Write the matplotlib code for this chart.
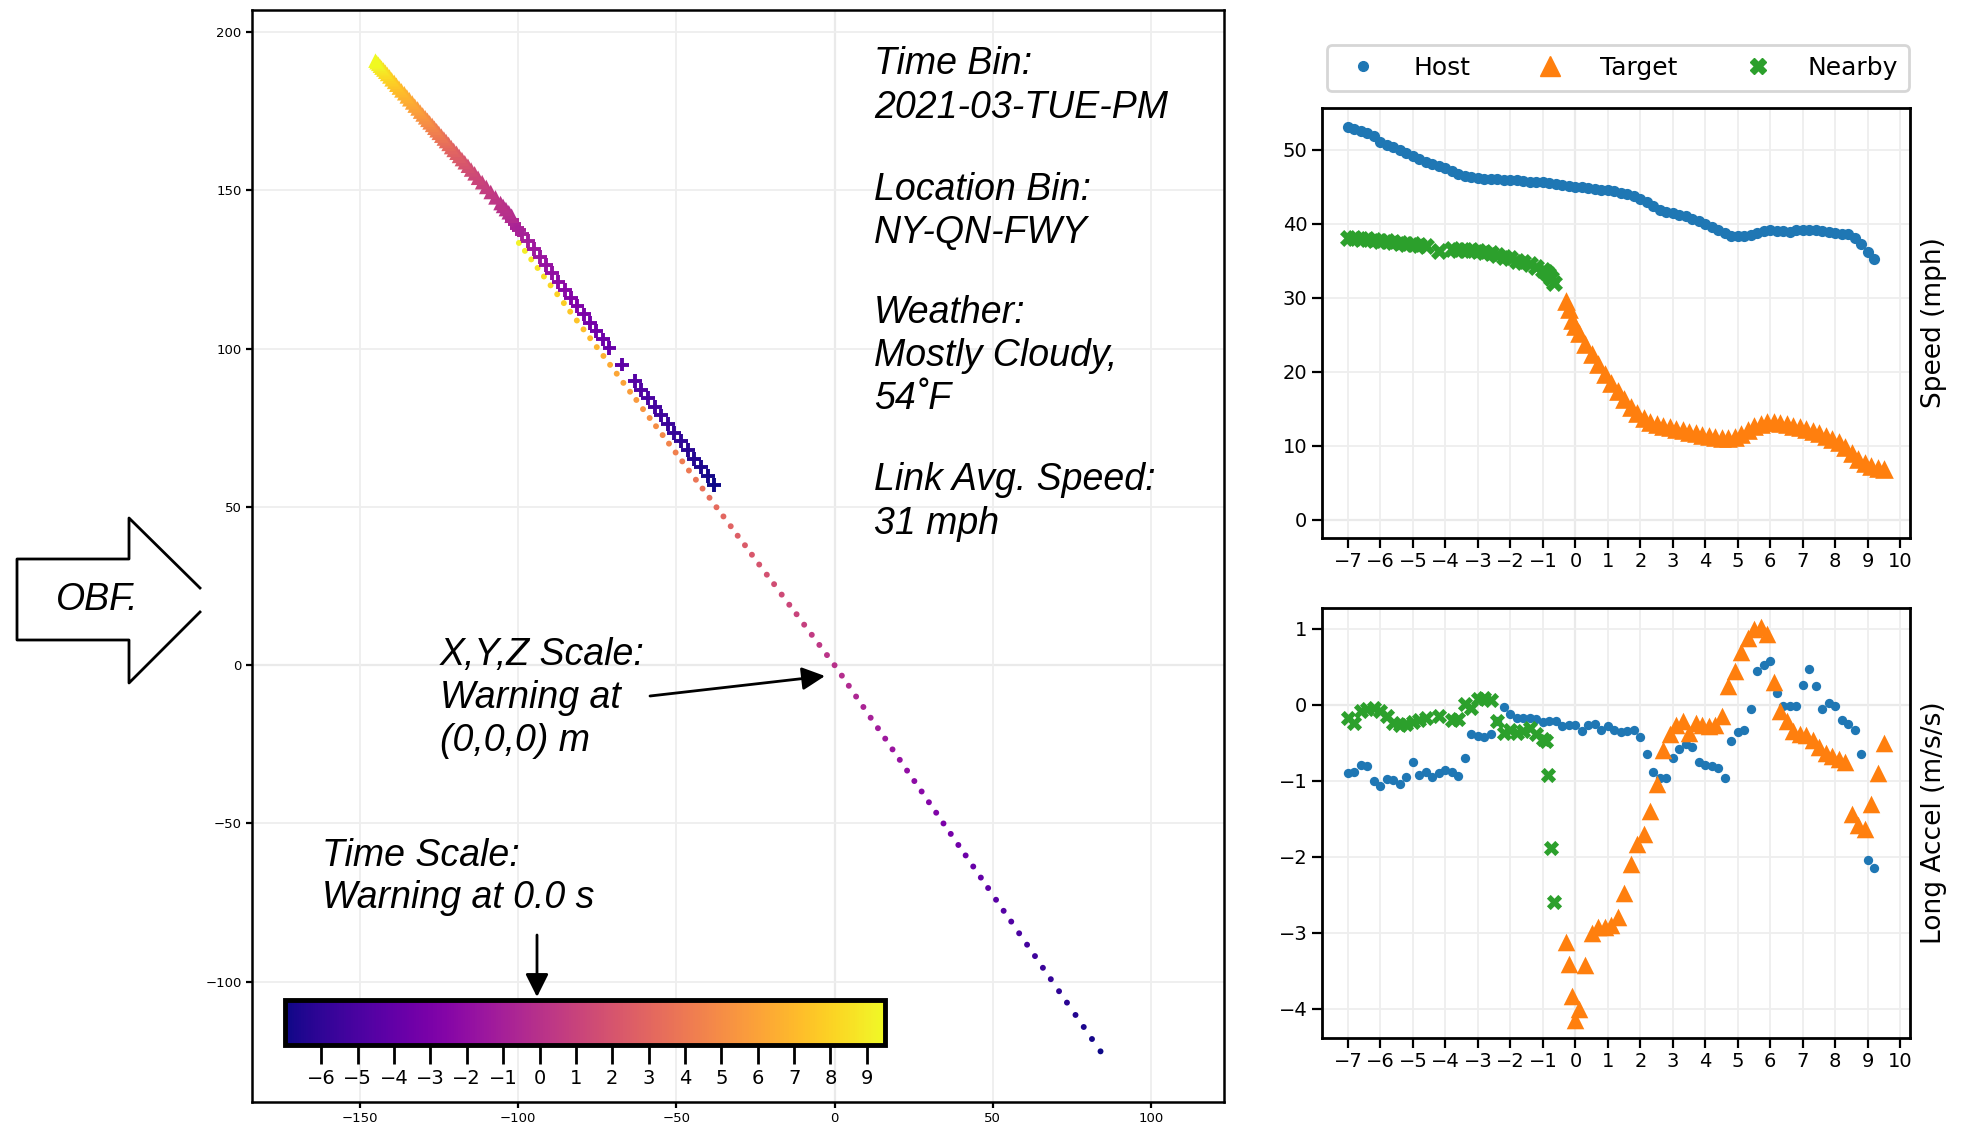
#!/usr/bin/env python3
"""
Warning event summary: trajectory map coloured by time, plus speed and
longitudinal acceleration of the host, target and nearby vehicles.
"""

import matplotlib
matplotlib.use("Agg")
import matplotlib.pyplot as plt
from matplotlib.colors import Normalize
from matplotlib.lines import Line2D
from matplotlib.patches import Polygon, FancyArrowPatch

# Canvas
W, H, DPI = 1961, 1130, 100

# Colours / fonts
HOST_C = "#1f77b4"
TARG_C = "#ff7f0e"
NEAR_C = "#2ca02c"
GRID_C = "#eeeeee"
ZERO_C = "#cccccc"
TXT = dict(fontsize=27, fontstyle="italic", family=["Liberation Sans", "DejaVu Sans"])

# Host vehicle (time s, speed mph, accel m/s/s, position m)
HOST_T = [-7.0, -6.8, -6.6, -6.4, -6.2, -6.0, -5.8, -5.6, -5.4, -5.2,
          -5.0, -4.8, -4.6, -4.4, -4.2, -4.0, -3.8, -3.6, -3.4, -3.2,
          -3.0, -2.8, -2.6, -2.4, -2.2, -2.0, -1.8, -1.6, -1.4, -1.2,
          -1.0, -0.8, -0.6, -0.4, -0.2, 0.0, 0.2, 0.4, 0.6, 0.8,
          1.0, 1.2, 1.4, 1.6, 1.8, 2.0, 2.2, 2.4, 2.6, 2.8,
          3.0, 3.2, 3.4, 3.6, 3.8, 4.0, 4.2, 4.4, 4.6, 4.8,
          5.0, 5.2, 5.4, 5.6, 5.8, 6.0, 6.2, 6.4, 6.6, 6.8,
          7.0, 7.2, 7.4, 7.6, 7.8, 8.0, 8.2, 8.4, 8.6, 8.8,
          9.0, 9.2]
HOST_SPEED = [53.1, 52.8, 52.5, 52.3, 51.8, 51.0, 50.6, 50.3, 50.0, 49.6,
              49.2, 48.8, 48.4, 48.1, 47.8, 47.5, 47.1, 46.7, 46.5, 46.3,
              46.2, 46.1, 46.0, 46.0, 45.9, 45.9, 45.9, 45.8, 45.7, 45.7,
              45.6, 45.5, 45.3, 45.2, 45.1, 45.0, 44.9, 44.8, 44.7, 44.6,
              44.5, 44.4, 44.2, 44.0, 43.8, 43.4, 42.9, 42.4, 41.9, 41.6,
              41.4, 41.2, 41.0, 40.7, 40.3, 40.0, 39.6, 39.1, 38.7, 38.3,
              38.3, 38.4, 38.5, 38.8, 39.0, 39.1, 39.0, 39.0, 38.9, 39.1,
              39.2, 39.2, 39.2, 39.0, 38.9, 38.7, 38.6, 38.6, 38.1, 37.3,
              36.2, 35.2]
HOST_ACCEL = [-0.90, -0.88, -0.79, -0.81, -1.00, -1.07, -0.98, -0.99, -1.04, -0.95,
              -0.76, -0.93, -0.88, -0.95, -0.90, -0.86, -0.88, -0.94, -0.70, -0.38,
              -0.41, -0.43, -0.38, -0.22, -0.03, -0.12, -0.18, -0.17, -0.17, -0.19,
              -0.23, -0.22, -0.22, -0.28, -0.27, -0.27, -0.35, -0.27, -0.25, -0.33,
              -0.28, -0.33, -0.36, -0.35, -0.33, -0.42, -0.65, -0.88, -0.96, -0.97,
              -0.70, -0.58, -0.52, -0.55, -0.75, -0.79, -0.81, -0.83, -0.96, -0.48,
              -0.36, -0.33, -0.05, 0.45, 0.52, 0.58, 0.15, -0.02, -0.02, -0.02,
              0.26, 0.47, 0.25, -0.05, 0.02, -0.02, -0.20, -0.25, -0.33, -0.65,
              -2.05, -2.15]
HOST_X = [84.0, 81.3, 78.7, 76.1, 73.4, 70.9, 68.3, 65.8, 63.3, 60.8,
          58.3, 55.8, 53.4, 51.0, 48.5, 46.2, 43.8, 41.4, 39.1, 36.7,
          34.4, 32.1, 29.8, 27.5, 25.2, 22.9, 20.6, 18.3, 16.0, 13.7,
          11.4, 9.1, 6.8, 4.5, 2.3, 0.0, -2.4, -4.8, -7.2, -9.6,
          -12.0, -14.3, -16.7, -19.1, -21.4, -23.8, -26.1, -28.3, -30.6, -32.8,
          -35.1, -37.3, -39.5, -41.7, -43.8, -46.0, -48.1, -50.2, -52.3, -54.3,
          -56.4, -58.4, -60.5, -62.6, -64.6, -66.7, -68.8, -70.9, -73.0, -75.1,
          -77.2, -79.3, -81.4, -83.5, -85.5, -87.6, -89.7, -91.8, -93.8, -95.8,
          -97.8, -99.7]
HOST_Y = [-122.0, -118.1, -114.3, -110.5, -106.6, -103.0, -99.2, -95.6, -91.9, -88.3,
          -84.7, -81.0, -77.6, -74.1, -70.4, -67.1, -63.6, -60.1, -56.8, -53.3,
          -50.0, -46.6, -43.3, -39.9, -36.6, -33.3, -29.9, -26.6, -23.2, -19.9,
          -16.6, -13.2, -9.9, -6.5, -3.3, 0.0, 3.2, 6.4, 9.6, 12.8,
          16.1, 19.1, 22.3, 25.6, 28.6, 31.8, 34.9, 37.9, 40.9, 43.9,
          47.0, 49.9, 52.9, 55.8, 58.6, 61.5, 64.4, 67.2, 70.0, 72.7,
          75.5, 78.1, 80.9, 83.8, 86.4, 89.2, 92.1, 94.9, 97.7, 100.5,
          103.3, 106.1, 108.9, 111.7, 114.4, 117.2, 120.0, 122.8, 125.5, 128.2,
          130.9, 133.4]

# Nearby vehicle
NEAR_T = [-7.0, -6.8, -6.6, -6.4, -6.2, -6.0, -5.8, -5.6, -5.4, -5.2,
          -5.0, -4.8, -4.6, -4.2, -3.8, -3.6, -3.4, -3.2, -3.0, -2.8,
          -2.6, -2.4, -2.2, -2.0, -1.8, -1.6, -1.4, -1.2, -1.0, -0.9,
          -0.85, -0.75, -0.65]
NEAR_SPEED = [38.1, 38.0, 37.9, 37.9, 37.8, 37.7, 37.6, 37.5, 37.4, 37.3,
              37.2, 37.1, 37.0, 36.3, 36.6, 36.5, 36.5, 36.4, 36.3, 36.2,
              36.0, 35.8, 35.5, 35.3, 35.0, 34.8, 34.5, 34.2, 33.8, 33.5,
              33.2, 32.6, 32.0]
NEAR_ACCEL = [-0.18, -0.24, -0.08, -0.05, -0.04, -0.08, -0.15, -0.24, -0.27, -0.25,
              -0.23, -0.20, -0.17, -0.15, -0.20, -0.19, 0.01, -0.04, 0.08, 0.09,
              0.06, -0.22, -0.37, -0.33, -0.37, -0.35, -0.30, -0.38, -0.45, -0.48,
              -0.93, -1.89, -2.60]
NEAR_X = [-38.0, -40.1, -42.2, -44.3, -46.4, -48.5, -50.6, -52.7, -54.8, -56.8,
          -58.9, -61.0, -63.0, -67.1, -71.1, -73.2, -75.2, -77.2, -79.2, -81.2,
          -83.3, -85.2, -87.2, -89.2, -91.1, -93.1, -95.0, -96.9, -98.8, -99.7,
          -100.2, -101.1, -102.0]
NEAR_Y = [57.0, 59.8, 62.5, 65.2, 68.0, 70.7, 73.4, 76.2, 78.9, 81.6,
          84.3, 87.0, 89.7, 95.0, 100.2, 102.9, 105.5, 108.2, 110.8, 113.4,
          116.0, 118.6, 121.2, 123.8, 126.3, 128.9, 131.4, 133.9, 136.3, 137.5,
          138.1, 139.3, 140.5]

# Target vehicle
TARG_T = [-0.3, -0.2, -0.1, 0.0, 0.1, 0.3, 0.5, 0.7, 0.9, 1.1,
          1.3, 1.5, 1.7, 1.9, 2.1, 2.3, 2.5, 2.7, 2.9, 3.1,
          3.3, 3.5, 3.7, 3.9, 4.1, 4.3, 4.5, 4.7, 4.9, 5.1,
          5.3, 5.5, 5.7, 5.9, 6.1, 6.3, 6.5, 6.7, 6.9, 7.1,
          7.3, 7.5, 7.7, 7.9, 8.1, 8.3, 8.5, 8.7, 8.9, 9.1,
          9.3, 9.5]
TARG_SPEED = [29.6, 28.5, 27.0, 26.2, 25.2, 23.8, 22.4, 21.0, 19.7, 18.5,
              17.4, 16.3, 15.3, 14.4, 13.7, 13.2, 12.9, 12.7, 12.5, 12.3,
              12.1, 11.9, 11.7, 11.5, 11.3, 11.2, 11.1, 11.1, 11.2, 11.6,
              12.1, 12.6, 13.0, 13.2, 13.2, 13.1, 12.9, 12.7, 12.5, 12.3,
              12.0, 11.7, 11.3, 10.9, 10.5, 9.8, 9.0, 8.2, 7.6, 7.3,
              7.0, 6.8]
TARG_ACCEL = [-3.12, -3.41, -3.84, -4.15, -4.00, -3.43, -3.00, -2.92, -2.93, -2.90,
              -2.80, -2.48, -2.10, -1.83, -1.70, -1.40, -1.04, -0.60, -0.38, -0.27,
              -0.22, -0.37, -0.24, -0.27, -0.28, -0.27, -0.15, 0.25, 0.45, 0.70,
              0.88, 1.00, 1.02, 0.93, 0.30, -0.08, -0.22, -0.35, -0.38, -0.40,
              -0.47, -0.55, -0.63, -0.68, -0.72, -0.76, -1.44, -1.58, -1.63, -1.30,
              -0.90, -0.50]
TARG_X = [-102.0, -102.9, -103.8, -104.7, -105.5, -107.1, -108.6, -110.0, -111.3, -112.6,
          -113.7, -114.8, -115.8, -116.8, -117.7, -118.6, -119.4, -120.3, -121.1, -121.9,
          -122.7, -123.4, -124.2, -125.0, -125.7, -126.4, -127.1, -127.9, -128.6, -129.3,
          -130.1, -130.9, -131.7, -132.6, -133.4, -134.3, -135.1, -135.9, -136.8, -137.6,
          -138.4, -139.1, -139.9, -140.6, -141.3, -141.9, -142.5, -143.1, -143.6, -144.1,
          -144.6, -145.0]
TARG_Y = [142.0, 143.1, 144.1, 145.1, 146.0, 147.8, 149.5, 151.1, 152.6, 154.0,
          155.4, 156.6, 157.8, 158.9, 159.9, 160.9, 161.9, 162.8, 163.7, 164.7,
          165.6, 166.4, 167.3, 168.2, 169.0, 169.8, 170.7, 171.5, 172.3, 173.1,
          174.0, 174.9, 175.9, 176.8, 177.8, 178.8, 179.7, 180.7, 181.6, 182.5,
          183.4, 184.3, 185.1, 186.0, 186.8, 187.5, 188.2, 188.8, 189.4, 190.0,
          190.5, 191.0]

# Annotation text
INFO_BLOCKS = [
    ("Time Bin:\n2021-03-TUE-PM", 86),
    ("Location Bin:\nNY-QN-FWY", 211),
    ("Weather:\nMostly Cloudy,\n54˚F", 356),
    ("Link Avg. Speed:\n31 mph", 502),
]


def fx(px):
    """Figure pixel x -> figure fraction."""
    return px / W


def fy(py):
    """Figure pixel y (from top) -> figure fraction."""
    return 1 - py / H


def style_axes(a, labelsize, ticklen, spine_w):
    a.grid(color=GRID_C, lw=1.3)
    a.axhline(0, color=ZERO_C, lw=1.5, zorder=1)
    a.axvline(0, color=ZERO_C, lw=1.5, zorder=1)
    a.tick_params(labelsize=labelsize, length=ticklen, width=1.6)
    for sp in a.spines.values():
        sp.set_linewidth(spine_w)


def fig_arrow(fig, start, end):
    fig.add_artist(FancyArrowPatch(
        (fx(start[0]), fy(start[1])), (fx(end[0]), fy(end[1])),
        transform=fig.transFigure, arrowstyle="-|>", color="black",
        lw=2, mutation_scale=35, shrinkA=0, shrinkB=0))


fig = plt.figure(figsize=(W / DPI, H / DPI), dpi=DPI)

# --- trajectory map ---
ax = fig.add_axes([fx(252), fy(1102), (1224 - 252) / W, (1102 - 10) / H])
ax.set_xlim(-184, 123)
ax.set_ylim(-138, 207)
ax.set_xticks([-150, -100, -50, 0, 50, 100])
ax.set_yticks([-100, -50, 0, 50, 100, 150, 200])
style_axes(ax, 9.5, 4, 1.8)

norm = Normalize(-7, 9.5)
sc = ax.scatter(HOST_X, HOST_Y, c=HOST_T, cmap="plasma", norm=norm, s=18, lw=0, zorder=3)
ax.scatter(NEAR_X, NEAR_Y, c=NEAR_T, cmap="plasma", norm=norm, marker="+",
           s=100, linewidths=2.8, zorder=3)
ax.scatter(TARG_X, TARG_Y, c=TARG_T, cmap="plasma", norm=norm, marker="^",
           s=110, lw=0, zorder=3)

cax = fig.add_axes([fx(285), fy(1045), 600 / W, 45 / H])
cb = fig.colorbar(sc, cax=cax, orientation="horizontal", ticks=range(-6, 10))
cb.outline.set_linewidth(3.5)
cax.tick_params(labelsize=14, length=14, width=2)

for text, ypx in INFO_BLOCKS:
    fig.text(fx(874), fy(ypx), text, va="center", linespacing=1.25, **TXT)
fig.text(fx(440), fy(698), "X,Y,Z Scale:\nWarning at\n(0,0,0) m", va="center", linespacing=1.25, **TXT)
fig.text(fx(322), fy(877), "Time Scale:\nWarning at 0.0 s", va="center", linespacing=1.25, **TXT)

fig_arrow(fig, (650, 696), (825, 676))
fig_arrow(fig, (537, 935), (537, 997))

# "OBF." block arrow on the left edge
outline = [(200, 612), (129, 683), (129, 640), (17, 640), (17, 559),
           (129, 559), (129, 518), (200, 588)]
fig.add_artist(Polygon([(fx(a), fy(b)) for a, b in outline], closed=True,
                       transform=fig.transFigure, facecolor="white", edgecolor="none"))
fig.add_artist(Line2D([fx(a) for a, b in outline], [fy(b) for a, b in outline],
                      transform=fig.transFigure, color="black", lw=2))
fig.text(fx(97), fy(600), "OBF.", ha="center", va="center", **TXT)

# --- speed and acceleration ---
ax1 = fig.add_axes([fx(1322), fy(537.5), 588 / W, 430 / H])
ax2 = fig.add_axes([fx(1322), fy(1037.5), 588 / W, 430 / H])
for a in (ax1, ax2):
    a.set_xlim(-7.8, 10.3)
    a.set_xticks(range(-7, 11))
    a.yaxis.set_label_position("right")
    style_axes(a, 14, 7, 2)
ax1.set_ylim(-2.4, 55.7)
ax1.set_yticks(range(0, 51, 10))
ax2.set_ylim(-4.38, 1.28)
ax2.set_yticks(range(-4, 2))
ax1.set_ylabel("Speed (mph)", fontsize=19, labelpad=8)
ax2.set_ylabel("Long Accel (m/s/s)", fontsize=19, labelpad=8)

ax1.scatter(HOST_T, HOST_SPEED, color=HOST_C, s=65, lw=0, zorder=3)
ax1.scatter(NEAR_T, NEAR_SPEED, color=NEAR_C, marker="X", s=150, lw=0, zorder=3)
ax1.scatter(TARG_T, TARG_SPEED, color=TARG_C, marker="^", s=180, lw=0, zorder=3)
ax2.scatter(HOST_T, HOST_ACCEL, color=HOST_C, s=45, lw=0, zorder=3)
ax2.scatter(NEAR_T, NEAR_ACCEL, color=NEAR_C, marker="X", s=120, lw=0, zorder=3)
ax2.scatter(TARG_T, TARG_ACCEL, color=TARG_C, marker="^", s=160, lw=0, zorder=3)

handles = [Line2D([], [], ls="", marker="o", color=HOST_C, markersize=7),
           Line2D([], [], ls="", marker="^", color=TARG_C, markersize=14),
           Line2D([], [], ls="", marker="X", color=NEAR_C, markersize=12)]
leg = fig.legend(handles, ["Host", "Target", "Nearby"], loc="center",
                 bbox_to_anchor=(fx(1618), fy(68)), ncol=3, fontsize=18,
                 frameon=True, edgecolor="#cccccc", fancybox=True,
                 handletextpad=1.0, columnspacing=2.2, borderpad=0.45)
leg.get_frame().set_linewidth(2)

fig.savefig("out.png", dpi=DPI, facecolor="white")
plt.close(fig)
